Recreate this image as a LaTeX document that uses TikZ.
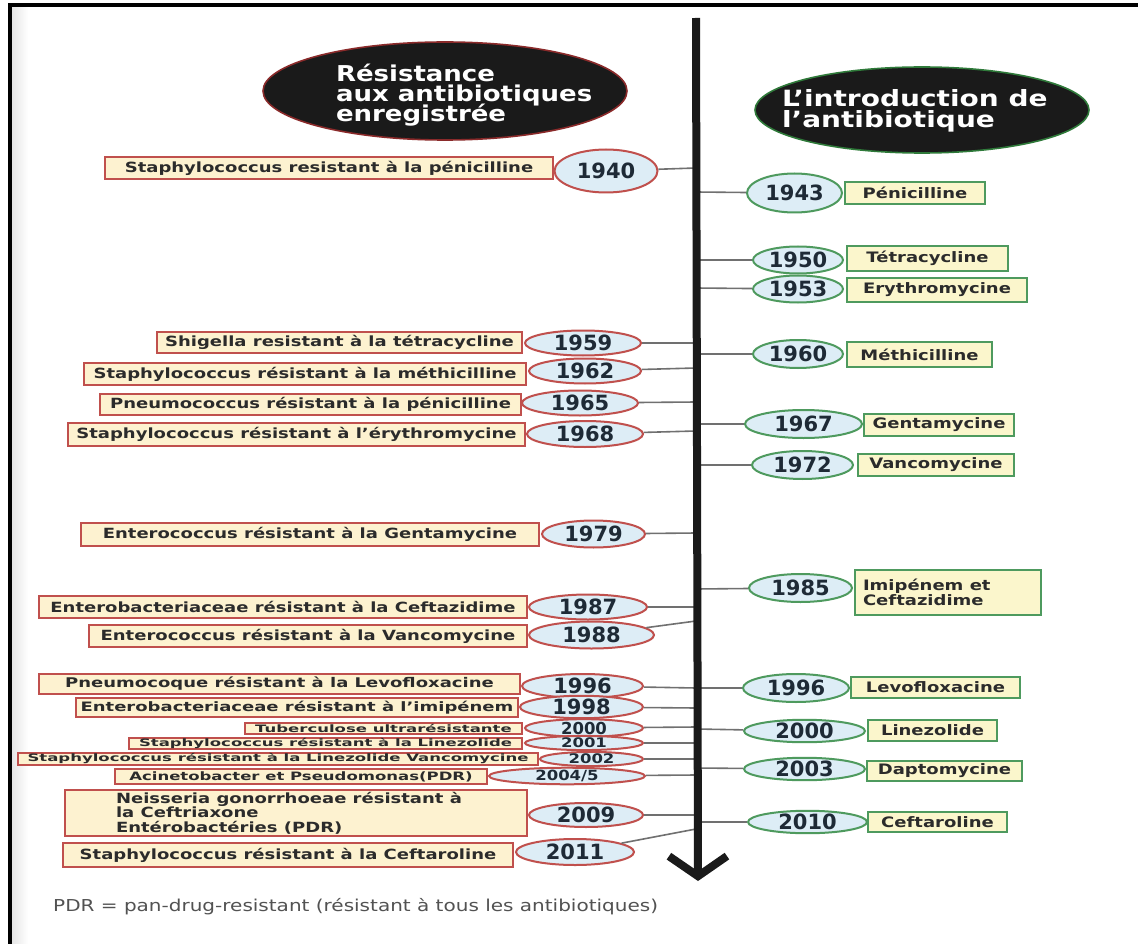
\documentclass[tikz,border=0pt]{standalone}
\usepackage{fontspec}
\setmainfont{DejaVu Sans}
\usepackage{graphicx}
\usetikzlibrary{shapes.geometric,arrows.meta}

\definecolor{resred}{HTML}{C0504D}
\definecolor{introgreen}{HTML}{4E9A5E}
\definecolor{cream}{HTML}{FDF2D0}
\definecolor{paleyellow}{HTML}{FBF6CC}
\definecolor{paleblue}{HTML}{DDEDF6}
\definecolor{inkdark}{HTML}{2B2B2B}
\definecolor{yearink}{HTML}{1E2A36}
\definecolor{linkgray}{HTML}{707070}
\definecolor{headblack}{HTML}{1A1A1A}
\definecolor{headred}{HTML}{8A2A2A}
\definecolor{headgreen}{HTML}{2F7A3A}

% text pressed flat, and stacked lines at a fixed baseline distance
\newcommand{\flattext}[2][0.78]{\scalebox{1}[#1]{#2}}
\newcommand{\textrows}[2]{\parbox{#1}{\lineskiplimit=-50pt\raggedright #2}}

\begin{document}
\begin{tikzpicture}[x=1pt, y=-1pt,
  resbox/.style={draw=resred, fill=cream, line width=2pt, inner sep=2pt, text=inkdark,
    font=\bfseries\fontsize{18}{19}\selectfont},
  resyear/.style={ellipse, draw=resred, fill=paleblue, line width=2pt, inner sep=0pt,
    text=yearink, font=\bfseries\fontsize{21}{22}\selectfont},
  introbox/.style={resbox, draw=introgreen, fill=paleyellow},
  introyear/.style={resyear, draw=introgreen, font=\bfseries\fontsize{21}{22}\selectfont},
  smallrow/.style={font=\bfseries\fontsize{16.5}{17}\selectfont, inner ysep=0pt},
  link/.style={draw=linkgray, line width=1.6pt},
  heading/.style={ellipse, fill=headblack, line width=1.6pt, inner sep=0pt},
  headtext/.style={text=white, inner sep=0pt}]

  \useasboundingbox (0,0) rectangle (1138,944);
  \fill[white] (0,0) rectangle (1138,944);
  \shade[left color=black!10, right color=white] (12,8) rectangle (28,944);
  \draw[line width=4pt, line join=miter] (10,944) -- (10,5.5) -- (1138,5.5);

  % headings
  \node[heading, draw=headred, minimum width=364pt, minimum height=98pt] (hdres) at (445,91) {};
  \node[headtext, font=\bfseries\fontsize{26}{24}\selectfont] (hdrestext) at (474,95)
    {\flattext[0.84]{\textrows{276pt}{Résistance\\aux antibiotiques\\enregistrée}}};
  \node[heading, draw=headgreen, minimum width=334pt, minimum height=86pt] (hdintro) at (922,110) {};
  \node[headtext, font=\bfseries\fontsize{28}{27}\selectfont] (hdintrotext) at (928,111)
    {\flattext[0.8]{\textrows{292pt}{L'introduction de\\l'antibiotique}}};

  % resistance side
  \node[resyear, minimum width=103pt, minimum height=43pt] (resyr1940) at (606,171) {1940};
  \node[resbox, minimum width=448pt, minimum height=22pt] (res1940) at (329,168)
    {\flattext{Staphylococcus resistant à la pénicilline}};
  \node[resyear, minimum width=116pt, minimum height=25pt] (resyr1959) at (583,343) {1959};
  \node[resbox, minimum width=365pt, minimum height=21pt] (res1959) at (339.5,342.5)
    {\flattext{Shigella resistant à la tétracycline}};
  \node[resyear, minimum width=112pt, minimum height=25pt] (resyr1962) at (585,371) {1962};
  \node[resbox, minimum width=442pt, minimum height=22pt] (res1962) at (305,374)
    {\flattext{Staphylococcus résistant à la méthicilline}};
  \node[resyear, minimum width=116pt, minimum height=25pt] (resyr1965) at (580,403) {1965};
  \node[resbox, minimum width=421pt, minimum height=21pt] (res1965) at (310.5,404.5)
    {\flattext{Pneumococcus résistant à la pénicilline}};
  \node[resyear, minimum width=116pt, minimum height=26pt] (resyr1968) at (585,434) {1968};
  \node[resbox, minimum width=457pt, minimum height=23pt] (res1968) at (296.5,434.5)
    {\flattext{Staphylococcus résistant à l'érythromycine}};
  \node[resyear, minimum width=103pt, minimum height=27pt] (resyr1979) at (593.5,534) {1979};
  \node[resbox, minimum width=458pt, minimum height=23pt] (res1979) at (310,534.5)
    {\flattext{Enterococcus résistant à la Gentamycine}};
  \node[resyear, minimum width=118pt, minimum height=25pt] (resyr1987) at (588,607) {1987};
  \node[resbox, minimum width=488pt, minimum height=22pt] (res1987) at (283,607)
    {\flattext{Enterobacteriaceae résistant à la Ceftazidime}};
  \node[resyear, minimum width=125pt, minimum height=27pt] (resyr1988) at (591.5,635) {1988};
  \node[resbox, minimum width=438pt, minimum height=22pt] (res1988) at (308,636)
    {\flattext{Enterococcus résistant à la Vancomycine}};
  \node[resyear, minimum width=121pt, minimum height=24pt] (resyr1996) at (582.5,686) {1996};
  \node[resbox, minimum width=481pt, minimum height=20pt] (res1996) at (279.5,684)
    {\flattext[0.74]{Pneumocoque résistant à la Levofloxacine}};
  \node[resyear, minimum width=123pt, minimum height=22pt] (resyr1998) at (581.5,707) {1998};
  \node[resbox, minimum width=442pt, minimum height=19pt] (res1998) at (297,707.5)
    {\flattext[0.72]{Enterobacteriaceae résistant à l'imipénem}};
  \node[resyear, smallrow, minimum width=118pt, minimum height=17pt] (resyr2000) at (584,728) {2000};
  \node[resbox, smallrow, minimum width=277pt, minimum height=11pt] (res2000) at (383.5,728.5)
    {\flattext[0.62]{Tuberculose ultrarésistante}};
  \node[resyear, smallrow, minimum width=118pt, minimum height=14pt] (resyr2001) at (584,743) {\flattext[0.8]{2001}};
  \node[resbox, smallrow, minimum width=393pt, minimum height=11pt] (res2001) at (325.5,743.5)
    {\flattext[0.62]{Staphylococcus résistant à la Linezolide}};
  \node[resyear, smallrow, minimum width=103pt, minimum height=14pt] (resyr2002) at (591.5,759) {\flattext[0.8]{2002}};
  \node[resbox, smallrow, minimum width=520pt, minimum height=12pt] (res2002) at (278,759)
    {\flattext[0.62]{Staphylococcus résistant à la Linezolide Vancomycine}};
  \node[resyear, smallrow, minimum width=156pt, minimum height=16pt] (resyr2004) at (567,776) {\flattext[0.85]{2004/5}};
  \node[resbox, smallrow, minimum width=372pt, minimum height=15pt] (res2004) at (301,776.5)
    {\flattext[0.7]{Acinetobacter et Pseudomonas(PDR)}};
  \node[resyear, minimum width=114pt, minimum height=24pt] (resyr2009) at (586,815) {2009};
  \node[resbox, minimum width=462pt, minimum height=46pt, font=\bfseries\fontsize{18}{18.6}\selectfont] (res2009) at (296,813)
    {\flattext{\textrows{360pt}{Neisseria gonorrhoeae résistant à\\la Ceftriaxone\\Entérobactéries (PDR)}}};
  \node[resyear, minimum width=118pt, minimum height=26pt] (resyr2011) at (575,852) {2011};
  \node[resbox, minimum width=450pt, minimum height=24pt] (res2011) at (288,855)
    {\flattext{Staphylococcus résistant à la Ceftaroline}};

  % introduction side
  \node[introyear, minimum width=95pt, minimum height=39pt] (introyr1943) at (794.5,193) {1943};
  \node[introbox, minimum width=140pt, minimum height=22pt] (intro1943) at (915,193)
    {\flattext[0.8]{Pénicilline}};
  \node[introyear, minimum width=90pt, minimum height=27pt] (introyr1950) at (798,260) {1950};
  \node[introbox, minimum width=161pt, minimum height=25pt] (intro1950) at (927.5,258.5)
    {\flattext[0.8]{Tétracycline}};
  \node[introyear, minimum width=90pt, minimum height=27pt] (introyr1953) at (798,289) {1953};
  \node[introbox, minimum width=180pt, minimum height=24pt] (intro1953) at (937,290)
    {\flattext[0.8]{Erythromycine}};
  \node[introyear, minimum width=90pt, minimum height=28pt] (introyr1960) at (798,354) {1960};
  \node[introbox, minimum width=145pt, minimum height=25pt] (intro1960) at (919.5,354.5)
    {\flattext[0.8]{Méthicilline}};
  \node[introyear, minimum width=117pt, minimum height=28pt] (introyr1967) at (803.5,424) {1967};
  \node[introbox, minimum width=150pt, minimum height=22pt] (intro1967) at (939,425)
    {\flattext[0.8]{Gentamycine}};
  \node[introyear, minimum width=101pt, minimum height=28pt] (introyr1972) at (802.5,465) {1972};
  \node[introbox, minimum width=156pt, minimum height=22pt] (intro1972) at (936,465)
    {\flattext[0.8]{Vancomycine}};
  \node[introyear, minimum width=103pt, minimum height=28pt] (introyr1985) at (800.5,588) {1985};
  \node[introbox, minimum width=186pt, minimum height=45pt, font=\bfseries\fontsize{18}{19}\selectfont] (intro1985) at (948,592.5)
    {\flattext[0.8]{\textrows{170pt}{Imipénem et\\Ceftazidime}}};
  \node[introyear, minimum width=106pt, minimum height=28pt] (introyr1996) at (796,688) {1996};
  \node[introbox, minimum width=169pt, minimum height=21pt] (intro1996) at (935.5,687.5)
    {\flattext[0.8]{Levofloxacine}};
  \node[introyear, minimum width=121pt, minimum height=22pt] (introyr2000) at (804.5,731) {2000};
  \node[introbox, minimum width=129pt, minimum height=21pt] (intro2000) at (932.5,730.5)
    {\flattext[0.8]{Linezolide}};
  \node[introyear, minimum width=121pt, minimum height=22pt] (introyr2003) at (804.5,769) {2003};
  \node[introbox, minimum width=155pt, minimum height=20pt] (intro2003) at (944.5,771)
    {\flattext[0.8]{Daptomycine}};
  \node[introyear, minimum width=119pt, minimum height=22pt] (introyr2010) at (807.5,822) {2010};
  \node[introbox, minimum width=139pt, minimum height=20pt] (intro2010) at (937.5,822)
    {\flattext[0.8]{Ceftaroline}};

  % points on the time axis
  \foreach \n/\y in {1940/168, 1959/343, 1962/368, 1965/402, 1968/431, 1979/533, 1987/607, 1988/621,
    1996/688, 1998/708, 2000/727, 2001/743, 2002/759, 2004/775, 2009/815, 2011/829}
    \coordinate (resax\n) at (696,\y);
  \foreach \n/\y in {1943/192, 1950/260, 1953/288, 1960/354, 1967/424, 1972/465, 1985/589,
    1996/688, 2000/729, 2003/768, 2010/822}
    \coordinate (introax\n) at (696,\y);

  \foreach \n in {1940,1959,1962,1965,1968,1979,1987,1988,1996,1998,2000,2001,2002,2004,2009,2011}
    \draw[link] (resyr\n) -- (resax\n);
  \foreach \n in {1943,1950,1953,1960,1967,1972,1985,1996,2000,2003,2010}
    \draw[link] (introax\n) -- (introyr\n);

  % time axis
  \coordinate (axtop) at (696,18);
  \coordinate (axend) at (698,881);
  \draw[line width=8pt, draw=headblack, -{Straight Barb[length=20pt, width=58pt]}] (axtop) -- (axend);

  \node[anchor=west, inner sep=0pt, text=black!68, font=\fontsize{20}{22}\selectfont] (pdr) at (53,907)
    {\flattext[0.82]{PDR = pan-drug-resistant (résistant à tous les antibiotiques)}};
\end{tikzpicture}
\end{document}
